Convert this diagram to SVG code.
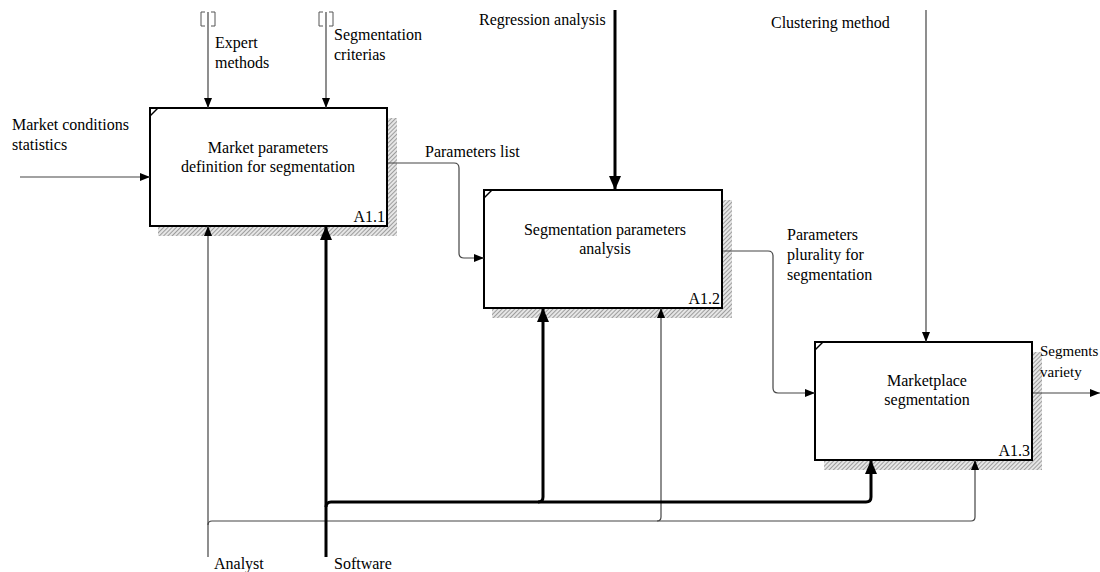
<svg xmlns="http://www.w3.org/2000/svg" width="1100" height="572" viewBox="0 0 1100 572">
<defs>
<pattern id="hatch" width="3" height="3" patternUnits="userSpaceOnUse" patternTransform="rotate(45)">
<rect width="3" height="3" fill="#e6e6e6"/>
<line x1="0" y1="0" x2="0" y2="3" stroke="#8a8a8a" stroke-width="1.6"/>
</pattern>
<marker id="a" viewBox="0 0 10 8" refX="10" refY="4" markerWidth="10" markerHeight="8" markerUnits="userSpaceOnUse" orient="auto">
<path d="M0,0 L10,4 L0,8 Z" fill="#000"/>
</marker>
<marker id="A" viewBox="0 0 14 12" refX="14" refY="6" markerWidth="14" markerHeight="12" markerUnits="userSpaceOnUse" orient="auto">
<path d="M0,0 L14,6 L0,12 Z" fill="#000"/>
</marker>
</defs>
<style>
text{font-family:"Liberation Serif","Times New Roman",serif;font-size:16px;fill:#000}
.c{text-anchor:middle}
.e{text-anchor:end}
.box{fill:#fff;stroke:#000;stroke-width:2}
.sh{fill:url(#hatch)}
.th{fill:none;stroke:#444;stroke-width:1.2}
.tk{fill:none;stroke:#000;stroke-width:3}
.br{fill:none;stroke:#555;stroke-width:1}
</style>
<rect width="1100" height="572" fill="#fff"/>

<g id="A1.1">
<path class="sh" d="M387,118 H397 V236 H158 V226 H387 Z"/>
<rect class="box" x="150" y="108" width="237" height="118"/>
<path d="M150,116 L158,108" stroke="#000" stroke-width="1.5"/>
<text class="c" x="268" y="153">Market parameters</text>
<text class="c" x="268" y="172">definition for segmentation</text>
<text class="e" x="385" y="222">A1.1</text>
</g>

<g id="A1.2">
<path class="sh" d="M722,200 H732 V318 H492 V308 H722 Z"/>
<rect class="box" x="484" y="190" width="238" height="118"/>
<path d="M484,198 L492,190" stroke="#000" stroke-width="1.5"/>
<text class="c" x="605" y="235">Segmentation parameters</text>
<text class="c" x="605" y="254">analysis</text>
<text class="e" x="720" y="304">A1.2</text>
</g>

<g id="A1.3">
<path class="sh" d="M1032,352 H1042 V470 H824 V460 H1032 Z"/>
<rect class="box" x="815" y="342" width="217" height="118"/>
<path d="M815,350 L823,342" stroke="#000" stroke-width="1.5"/>
<text class="c" x="927" y="386">Marketplace</text>
<text class="c" x="927" y="405">segmentation</text>
<text class="e" x="1030" y="456">A1.3</text>
</g>

<g id="connectors">
<!-- inputs -->
<path class="th" d="M20,177 H150" marker-end="url(#a)"/>
<path class="th" d="M388,163 H454 Q459,163 459,168 V253 Q459,258 464,258 H484" marker-end="url(#a)"/>
<path class="th" d="M723,251 H768 Q773,251 773,256 V388 Q773,393 778,393 H815" marker-end="url(#a)"/>
<!-- output -->
<path class="th" d="M1033,393 H1100" marker-end="url(#a)"/>
<!-- controls -->
<path class="th" d="M208,12 V108" marker-end="url(#a)"/>
<path class="br" d="M205,12 H201 V26 H205 M211,12 H215 V26 H211"/>
<path class="th" d="M326,12 V108" marker-end="url(#a)"/>
<path class="br" d="M323,12 H319 V26 H323 M329,12 H333 V26 H329"/>
<path class="tk" d="M615,10 V190" marker-end="url(#A)"/>
<path class="th" d="M926,10 V342" marker-end="url(#a)"/>
<!-- mechanisms -->
<path class="th" d="M208,557 V226" marker-end="url(#a)"/>
<path class="th" d="M208,525 Q208,521 212,521 H657 Q661,521 661,517 V308" marker-end="url(#a)"/>
<path class="th" d="M657,521 H971 Q975,521 975,517 V460" marker-end="url(#a)"/>
<path class="tk" d="M326,557 V226" marker-end="url(#A)"/>
<path class="tk" d="M326,507 Q326,502 331,502 H538 Q543,502 543,497 V308" marker-end="url(#A)"/>
<path class="tk" d="M538,502 H866 Q871,502 871,497 V460" marker-end="url(#A)"/>
</g>

<g id="labels">
<text x="12" y="130">Market conditions</text>
<text x="12" y="150">statistics</text>
<text x="215" y="48">Expert</text>
<text x="215" y="68">methods</text>
<text x="334" y="40">Segmentation</text>
<text x="334" y="60">criterias</text>
<text x="479" y="25">Regression analysis</text>
<text x="771" y="28">Clustering method</text>
<text x="425" y="157">Parameters list</text>
<text x="787" y="240">Parameters</text>
<text x="787" y="260">plurality for</text>
<text x="787" y="280">segmentation</text>
<text x="1040" y="356" style="font-size:15px">Segments</text>
<text x="1040" y="377" style="font-size:15px">variety</text>
<text x="214" y="569">Analyst</text>
<text x="334" y="569">Software</text>
</g>
</svg>
